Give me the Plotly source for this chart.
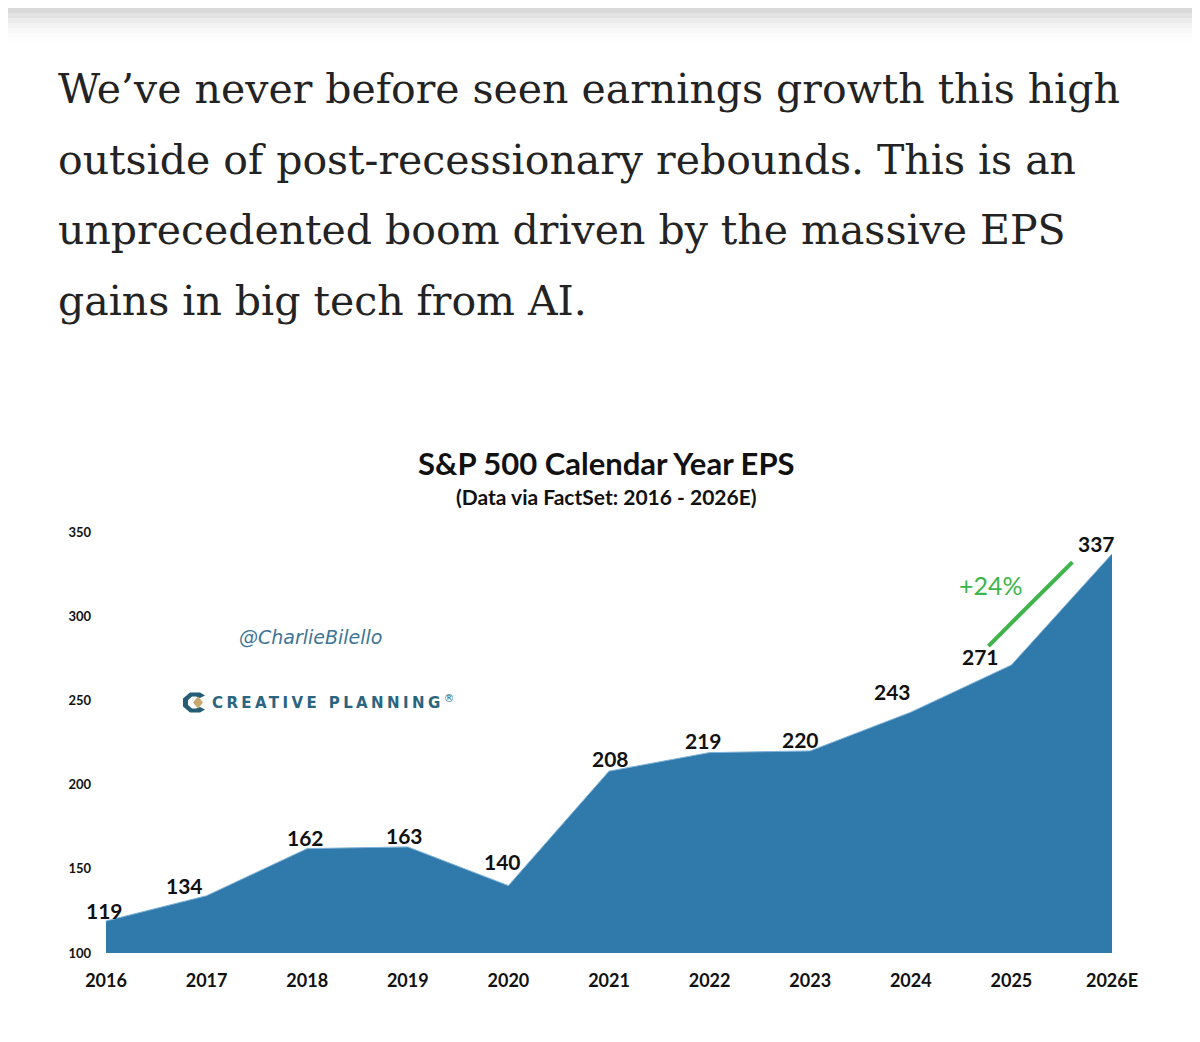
import plotly.graph_objects as go

# ---- data ----
years = ["2016", "2017", "2018", "2019", "2020", "2021", "2022", "2023", "2024", "2025", "2026E"]
eps = [119, 134, 162, 163, 140, 208, 219, 220, 243, 271, 337]
y_ticks = [100, 150, 200, 250, 300, 350]
growth_label = "+24%"
paragraph = [
    "We\u2019ve never before seen earnings growth this high",
    "outside of post-recessionary rebounds. This is an",
    "unprecedented boom driven by the massive EPS",
    "gains in big tech from AI.",
]
title = "S&P 500 Calendar Year EPS"
subtitle = "(Data via FactSet: 2016 - 2026E)"
handle = "@CharlieBilello"
brand = "CREATIVE PLANNING"

# ---- style / layout ----
PAGE_W, PAGE_H = 1200, 1042
OFF = 8                              # browser body margin
W, H = PAGE_W - 2 * OFF, PAGE_H - 2 * OFF
L, R, T, B = 106, 1112, 532, 953     # plot area in page pixels
AREA = "#2f79ab"
CHART_FONT = "Lato"
SERIF = "DejaVu Serif"
GREEN = "#3db54a"

def px(x):
    return (x - L) / (R - L)

def py(y):
    return (B - y) / (B - T)

# label offsets (pixels) relative to each data point
label_dx = [-2, -22, -2, -3, -6, 1, -6, -10, -18, -31, -16]
label_dy = [11, 10, 11, 11, 24, 13, 12, 11, 21, 9, 10]

fig = go.Figure()
fig.add_trace(go.Scatter(
    x=years, y=eps, mode="lines", fill="tozeroy",
    fillcolor=AREA, line=dict(color="#7fb3d8", width=1),
    hoverinfo="skip", showlegend=False,
))

annotations = []
for i, (v, dx, dy) in enumerate(zip(eps, label_dx, label_dy)):
    annotations.append(dict(
        x=i, y=v, xref="x", yref="y", text=f"<b>{v}</b>", showarrow=False,
        xshift=dx, yshift=dy, yanchor="middle", xanchor="center",
        font=dict(family=CHART_FONT, size=21, color="#111111"),
    ))

# growth annotation anchored on the 2025 point
annotations.append(dict(
    x=9, y=eps[9], xref="x", yref="y", text=growth_label, showarrow=False,
    xshift=-20, yshift=80, yanchor="middle", xanchor="center",
    font=dict(family=CHART_FONT, size=25, color=GREEN),
))

# paragraph
for i, line in enumerate(paragraph):
    annotations.append(dict(
        x=px(56), y=py(89 + 70.5 * i), xref="paper", yref="paper", text=line,
        showarrow=False, xanchor="left", yanchor="middle",
        font=dict(family=SERIF, size=41, color="#232323"),
    ))

# chart titles
annotations.append(dict(
    x=px(606), y=py(463), xref="paper", yref="paper", text=f"<b>{title}</b>",
    showarrow=False, xanchor="center", yanchor="middle",
    font=dict(family=CHART_FONT, size=31, color="#111111"),
))
annotations.append(dict(
    x=px(606), y=py(496), xref="paper", yref="paper", text=f"<b>{subtitle}</b>",
    showarrow=False, xanchor="center", yanchor="middle",
    font=dict(family=CHART_FONT, size=21, color="#111111"),
))
# watermarks
annotations.append(dict(
    x=px(310), y=py(637), xref="paper", yref="paper", text=f"<i>{handle}</i>",
    showarrow=False, xanchor="center", yanchor="middle",
    font=dict(family="DejaVu Sans", size=19, color="#3d7596"),
))
annotations.append(dict(
    x=px(210), y=py(702), xref="paper", yref="paper", xanchor="left", yanchor="middle",
    text=f"<span style='letter-spacing:3.4px'><b>{brand}</b></span><sup>\u00ae</sup>",
    showarrow=False, font=dict(family="DejaVu Sans", size=15, color="#2a6580"),
))

shapes = []
# soft shadow at the top of the page
for k, op in enumerate([0.10, 0.08, 0.06, 0.045, 0.03, 0.02, 0.01]):
    shapes.append(dict(
        type="rect", xref="paper", yref="paper", x0=px(0), x1=px(PAGE_W),
        y0=py(0), y1=py(OFF + 5 * (k + 1)), fillcolor="#808080", opacity=op,
        line=dict(width=0), layer="below",
    ))
# logo: teal "C" and gold diamond
cx, cy = 194, 702.5
shapes.append(dict(
    type="path", xref="paper", yref="paper", xsizemode="pixel", ysizemode="pixel",
    xanchor=px(cx), yanchor=py(cy),
    path="M 11 7 L 6 10 L -4 10 L -11 4 L -11 -4 L -4 -10 L 6 -10 L 11 -7 "
         "L 6 -4.5 L 2 -6 L -2 -6 L -6 -2.5 L -6 2.5 L -2 6 L 2 6 L 6 4.5 Z",
    fillcolor="#245d75", line=dict(width=0),
))
shapes.append(dict(
    type="path", xref="paper", yref="paper", xsizemode="pixel", ysizemode="pixel",
    xanchor=px(cx), yanchor=py(cy),
    path="M -1 0 L 4 -6 L 9 0 L 4 6 Z",
    fillcolor="#c7a76b", line=dict(width=0),
))
# green growth line anchored on the 2025 point
shapes.append(dict(
    type="line", xref="x", yref="y", xsizemode="pixel", ysizemode="pixel",
    xanchor=9, yanchor=eps[9], x0=-23, y0=19, x1=61, y1=103,
    line=dict(color=GREEN, width=4),
))

fig.update_layout(
    width=W, height=H,
    margin=dict(l=L - OFF, r=(OFF + W) - R, t=T - OFF, b=(OFF + H) - B, pad=0),
    paper_bgcolor="white", plot_bgcolor="white",
    showlegend=False,
    annotations=annotations, shapes=shapes,
    xaxis=dict(
        type="category", range=[0, len(years) - 1], showgrid=False, zeroline=False,
        showline=False, ticks="", ticklabelstandoff=15,
        tickfont=dict(family=CHART_FONT, size=18, color="#111111", weight="bold"),
        fixedrange=True,
    ),
    yaxis=dict(
        range=[100, 350], tickvals=y_ticks, ticktext=[str(t) for t in y_ticks],
        showgrid=False, zeroline=False, showline=False, ticks="",
        ticklabelstandoff=14,
        tickfont=dict(family=CHART_FONT, size=13, color="#111111", weight="bold"),
        fixedrange=True,
    ),
)

fig.write_html("out.html")
